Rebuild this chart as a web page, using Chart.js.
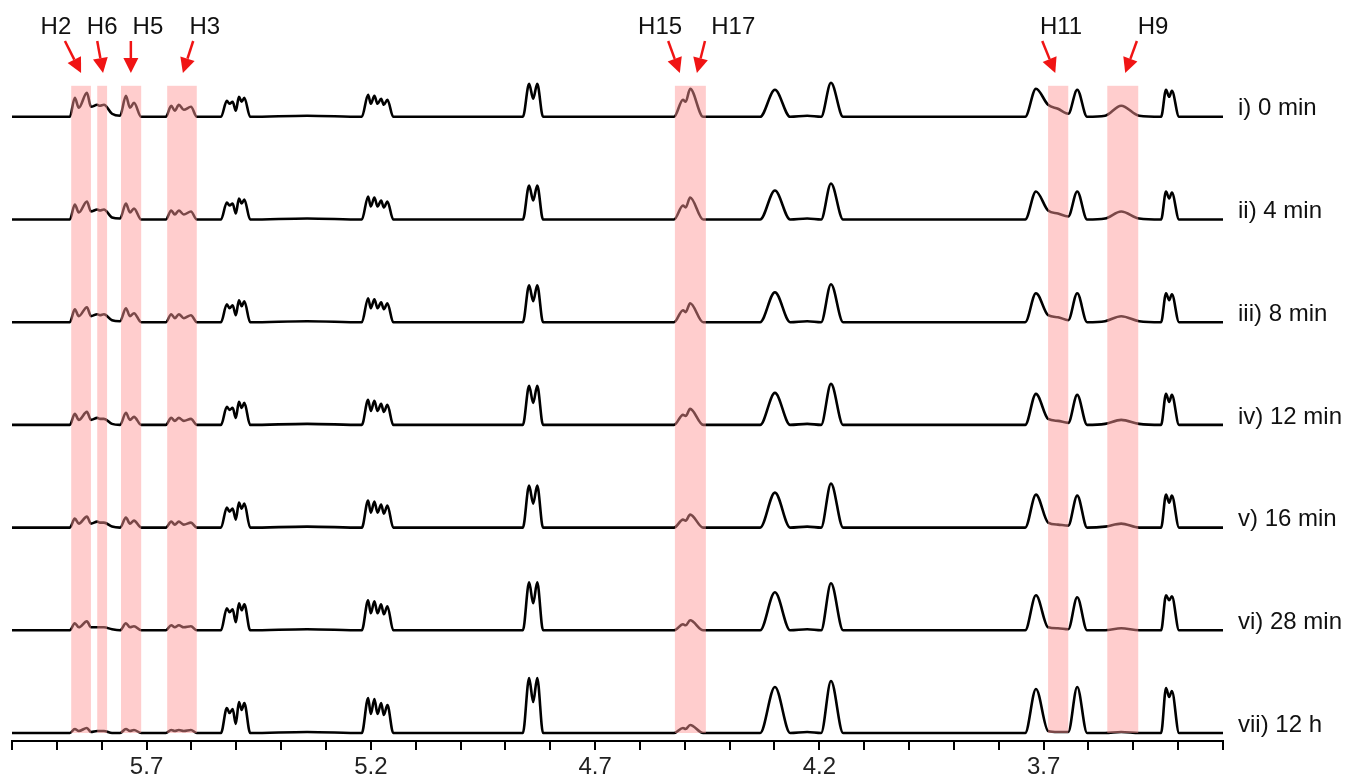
<!DOCTYPE html>
<html>
<head>
<meta charset="utf-8">
<script src="https://cdn.jsdelivr.net/npm/chart.js@4/dist/chart.umd.min.js"></script>
<style>
  html, body { margin: 0; padding: 0; background: #fff; }
  canvas { display: block; }
</style>
</head>
<body>
<canvas id="nmrChart" width="1355" height="781"></canvas>
<script>
// chemical shift grid (ppm) shared by all traces
const shifts = [
  6.000, 5.938, 5.871, 5.860, 5.851, 5.833, 5.824, 5.810, 5.804, 5.795,
  5.777, 5.759, 5.746, 5.737, 5.728, 5.712, 5.657, 5.645, 5.637, 5.628,
  5.617, 5.601, 5.588, 5.534, 5.521, 5.515, 5.508, 5.501, 5.494, 5.488,
  5.482, 5.469, 5.342, 5.220, 5.206, 5.200, 5.192, 5.185, 5.177, 5.171,
  5.163, 5.150, 4.861, 4.847, 4.838, 4.829, 4.816, 4.524, 4.504, 4.498,
  4.488, 4.459, 4.332, 4.299, 4.265, 4.227, 4.196, 4.174, 4.147, 3.741,
  3.717, 3.690, 3.668, 3.645, 3.625, 3.603, 3.563, 3.527, 3.487, 3.438,
  3.427, 3.420, 3.414, 3.398, 3.300
]

// intensities per trace, same order as shifts
const trace0min = [
  0, 0, 0, 19, 9, 24, 10, 12, 11, 12,
  3, 1, 21, 9, 14, 0, 0, 11, 6, 12,
  7, 10, 0, 0, 16, 13, 15, 6, 20, 15,
  19, 0, 1, 0, 22, 13, 21, 13, 18, 12,
  17, 0, 0, 33, 18, 33, 0, 0, 17, 15,
  28, 0, 0, 27, 0, 1, 0, 34, 0, 0,
  28, 12, 8, 3, 27, 0, 1, 11, 1, 0,
  27, 20, 26, 0, 0
]
const trace4min = [
  0, 0, 0, 15, 7, 18, 8, 10, 9, 10,
  2, 1, 16, 7, 11, 0, 0, 9, 5, 9,
  5, 8, 0, 0, 17, 14, 16, 6, 21, 16,
  20, 0, 1, 0, 23, 13, 22, 13, 19, 12,
  18, 0, 0, 34, 19, 34, 0, 0, 14, 12,
  22, 0, 0, 29, 0, 1, 0, 36, 0, 0,
  28, 9, 6, 3, 28, 0, 1, 8, 1, 0,
  28, 21, 27, 0, 0
]
const trace8min = [
  0, 0, 0, 13, 6, 15, 6, 8, 7, 8,
  2, 1, 14, 6, 9, 0, 0, 8, 4, 8,
  4, 7, 0, 0, 18, 14, 17, 7, 22, 16,
  21, 0, 1, 0, 24, 14, 23, 14, 20, 13,
  19, 0, 0, 37, 21, 37, 0, 0, 12, 10,
  19, 0, 0, 30, 0, 1, 0, 38, 0, 0,
  29, 7, 5, 2, 29, 0, 1, 6, 1, 0,
  29, 22, 28, 0, 0
]
const trace12min = [
  0, 0, 0, 11, 5, 13, 5, 7, 6, 6,
  1, 0, 12, 5, 8, 0, 0, 7, 4, 7,
  4, 6, 0, 0, 18, 15, 17, 7, 23, 17,
  22, 0, 1, 0, 25, 14, 24, 14, 21, 13,
  20, 0, 0, 39, 22, 39, 0, 0, 10, 9,
  16, 0, 0, 32, 0, 1, 0, 41, 0, 0,
  31, 6, 4, 2, 30, 0, 1, 5, 1, 0,
  31, 23, 30, 0, 0
]
const trace16min = [
  0, 0, 0, 9, 4, 11, 4, 6, 5, 5,
  1, 0, 10, 4, 7, 0, 0, 6, 3, 6,
  3, 5, 0, 0, 20, 16, 19, 8, 25, 19,
  24, 0, 1, 0, 27, 15, 26, 15, 23, 14,
  22, 0, 0, 42, 24, 42, 0, 0, 8, 7,
  13, 0, 0, 35, 0, 1, 0, 44, 0, 0,
  33, 5, 3, 2, 32, 0, 1, 4, 0, 0,
  33, 25, 32, 0, 0
]
const trace28min = [
  0, 0, 0, 7, 3, 9, 3, 3, 3, 3,
  1, 0, 7, 3, 4, 0, 0, 5, 3, 5,
  3, 4, 0, 0, 22, 18, 21, 8, 27, 20,
  26, 0, 1, 0, 30, 17, 29, 17, 26, 16,
  24, 0, 0, 48, 27, 48, 0, 0, 6, 5,
  10, 0, 0, 38, 0, 1, 0, 47, 0, 0,
  35, 3, 2, 1, 33, 0, 0, 2, 0, 0,
  35, 30, 34, 0, 0
]
const trace12h = [
  0, 0, 0, 4, 2, 5, 1, 2, 2, 2,
  0, 0, 4, 2, 3, 0, 0, 3, 2, 3,
  2, 3, 0, 0, 25, 20, 24, 9, 31, 23,
  30, 0, 1, 0, 35, 19, 34, 19, 30, 18,
  28, 0, 0, 55, 31, 55, 0, 0, 5, 4,
  8, 0, 0, 46, 0, 1, 0, 52, 0, 0,
  44, 2, 1, 1, 46, 0, 0, 1, 0, 0,
  45, 36, 42, 0, 0
]

const traces = [trace0min, trace4min, trace8min, trace12min, trace16min, trace28min, trace12h]
const traceLabels = ['i) 0 min', 'ii) 4 min', 'iii) 8 min', 'iv) 12 min', 'v) 16 min', 'vi) 28 min', 'vii) 12 h']

// highlighted proton regions (ppm)
const bandNames = ['H2', 'H6', 'H5', 'H3', 'H15/H17', 'H11', 'H9']
const bandFrom = [5.868, 5.810, 5.757, 5.654, 4.522, 3.690, 3.558]
const bandTo = [5.824, 5.788, 5.712, 5.588, 4.453, 3.645, 3.489]

// arrow annotations: label, label centre, arrow tail, arrow tip (ppm)
const arrowLabels = ['H2', 'H6', 'H5', 'H3', 'H15', 'H17', 'H11', 'H9']
const arrowTextAt = [5.902, 5.799, 5.697, 5.570, 4.555, 4.392, 3.661, 3.456]
const arrowTail = [5.882, 5.810, 5.735, 5.596, 4.537, 4.455, 3.703, 3.492]
const arrowTip = [5.846, 5.797, 5.735, 5.619, 4.511, 4.473, 3.674, 3.518]

const tickValues = [
  3.3, 3.4, 3.5, 3.6, 3.7, 3.8, 3.9, 4.0, 4.1, 4.2, 4.3, 4.4, 4.5, 4.6,
  4.7, 4.8, 4.9, 5.0, 5.1, 5.2, 5.3, 5.4, 5.5, 5.6, 5.7, 5.8, 5.9, 6.0
]
const tickLabels = ['5.7', '5.2', '4.7', '4.2', '3.7']

const FONT = "'Liberation Sans', Arial, sans-serif"
const traceGap = 102.7
const bottomBase = 8
const baseOf = (i) => bottomBase + (traces.length - 1 - i) * traceGap

const datasets = traces.map((h, i) => ({
  label: traceLabels[i],
  data: shifts.map((x, k) => ({ x: x, y: baseOf(i) + h[k] })),
  borderColor: '#000',
  borderWidth: 2.6,
  pointRadius: 0,
  fill: false,
  cubicInterpolationMode: 'monotone'
}))

const decorations = {
  id: 'decorations',
  afterDatasetsDraw(chart) {
    const { ctx, scales } = chart
    const top = scales.y.getPixelForValue(baseOf(0) + 31)
    const bottom = scales.y.getPixelForValue(baseOf(traces.length - 1))
    ctx.save()
    ctx.fillStyle = 'rgba(255, 150, 150, 0.48)'
    bandFrom.forEach((from, i) => {
      const x1 = scales.x.getPixelForValue(from)
      const x2 = scales.x.getPixelForValue(bandTo[i])
      ctx.fillRect(x1, top, x2 - x1, bottom - top)
    })
    ctx.restore()
  },
  afterDraw(chart) {
    const { ctx, scales, chartArea } = chart
    ctx.save()
    // trace labels on the right
    ctx.fillStyle = '#111'
    ctx.font = '24px ' + FONT
    ctx.textAlign = 'left'
    ctx.textBaseline = 'middle'
    traceLabels.forEach((t, i) => {
      const y = scales.y.getPixelForValue(baseOf(i) + 8)
      ctx.fillText(t, chartArea.right + 15, y)
    })
    // arrows and proton labels
    ctx.textAlign = 'center'
    arrowLabels.forEach((t, i) => {
      ctx.fillStyle = '#111'
      ctx.fillText(t, scales.x.getPixelForValue(arrowTextAt[i]), chartArea.top + 27)
      const x0 = scales.x.getPixelForValue(arrowTail[i])
      const y0 = chartArea.top + 41
      const x1 = scales.x.getPixelForValue(arrowTip[i])
      const y1 = chartArea.top + 73
      const ang = Math.atan2(y1 - y0, x1 - x0)
      const headLen = 15
      const headW = 7.5
      const bx = x1 - headLen * Math.cos(ang)
      const by = y1 - headLen * Math.sin(ang)
      ctx.strokeStyle = '#f01414'
      ctx.fillStyle = '#f01414'
      ctx.lineWidth = 2.5
      ctx.beginPath()
      ctx.moveTo(x0, y0)
      ctx.lineTo(bx, by)
      ctx.stroke()
      ctx.beginPath()
      ctx.moveTo(x1, y1)
      ctx.lineTo(bx + headW * Math.sin(ang), by - headW * Math.cos(ang))
      ctx.lineTo(bx - headW * Math.sin(ang), by + headW * Math.cos(ang))
      ctx.closePath()
      ctx.fill()
    })
    ctx.restore()
  }
}

const ctx = document.getElementById('nmrChart').getContext('2d')
new Chart(ctx, {
  type: 'line',
  data: { datasets: datasets },
  options: {
    responsive: false,
    animation: false,
    layout: { padding: { left: 12, right: 132, top: 0, bottom: 0 } },
    plugins: {
      legend: { display: false },
      tooltip: { enabled: false }
    },
    scales: {
      x: {
        type: 'linear',
        reverse: true,
        min: 3.3,
        max: 6.0,
        afterBuildTicks: (scale) => {
          scale.ticks = tickValues.map((v) => ({ value: v }))
        },
        afterFit: (scale) => {
          scale.height = 40
        },
        ticks: {
          autoSkip: false,
          maxRotation: 0,
          padding: 3,
          color: '#222',
          font: { family: FONT, size: 24 },
          callback: (value) => {
            const s = Number(value).toFixed(1)
            return tickLabels.includes(s) ? s : ''
          }
        },
        grid: {
          drawOnChartArea: false,
          drawTicks: true,
          tickLength: 9,
          color: '#000',
          lineWidth: 2
        },
        border: { display: true, color: '#000', width: 2 }
      },
      y: {
        display: false,
        min: 0,
        max: 741
      }
    }
  },
  plugins: [decorations]
})
</script>
</body>
</html>
